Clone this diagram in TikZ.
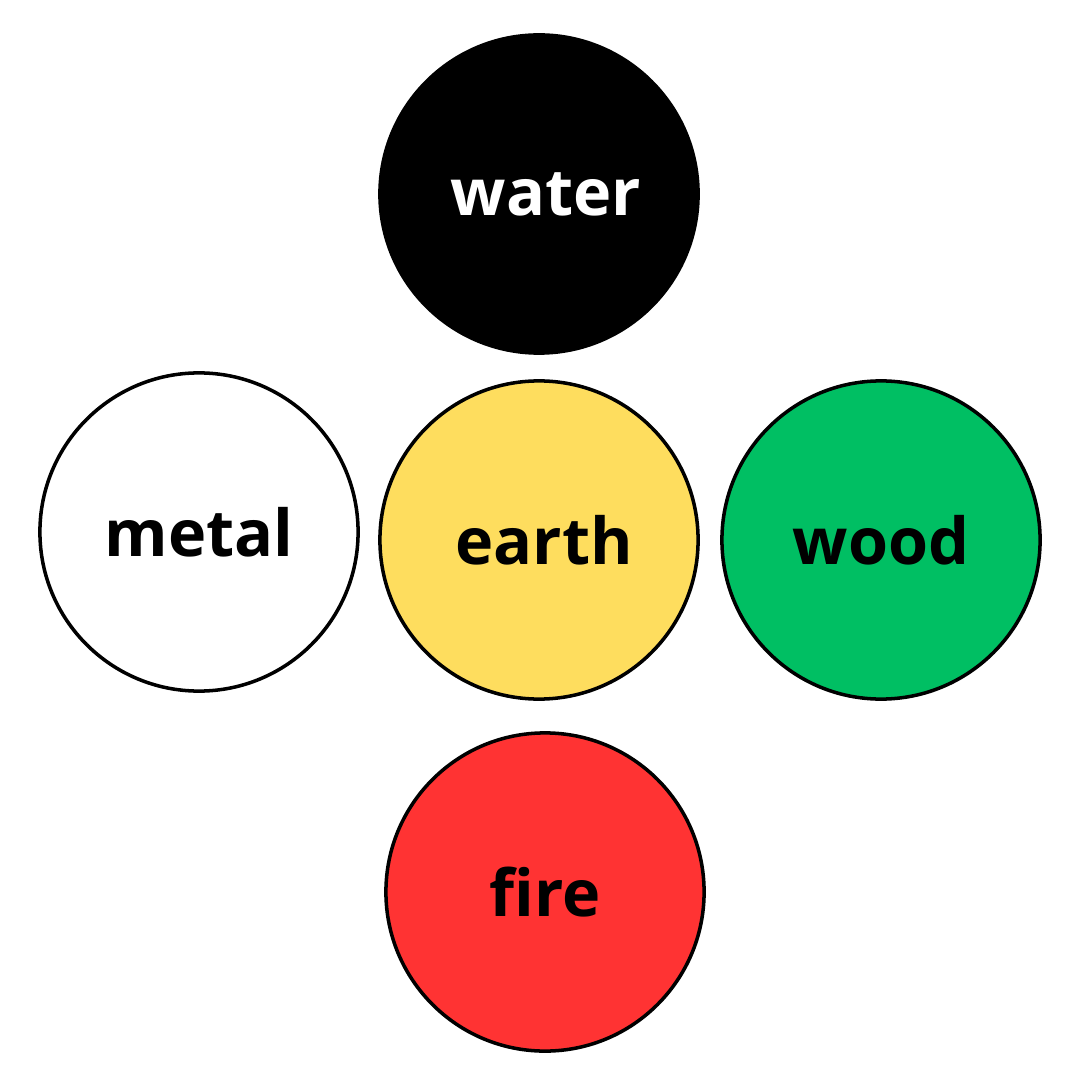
\documentclass[tikz,border=0pt]{standalone}
\usepackage{fontspec}
\setmainfont{Open Sans}[Ligatures=NoCommon]
\usepackage{xcolor}
\usepackage{tikz}
\usetikzlibrary{positioning}
\definecolor{elemyellow}{HTML}{FEDD5E}
\definecolor{elemgreen}{HTML}{00BF63}
\definecolor{elemred}{HTML}{FF3333}

\tikzset{
    element/.style={circle, draw=black, line width=1pt, minimum size=3.18cm,
        inner sep=0pt, font=\fontsize{18.4}{22}\selectfont\bfseries}
}

\begin{document}
\begin{tikzpicture}[x=0.01cm, y=-0.01cm]
    \useasboundingbox (0,0) rectangle (1080,1080);

    % Elements
    \node[element, fill=black, text=white] (water) at (539,194) {\hspace{4pt}water};
    \node[element, fill=white] (metal) at (199,532) {metal};
    \node[element, fill=elemyellow] (earth) at (539,540) {\hspace{3pt}earth};
    \node[element, fill=elemgreen] (wood) at (881,540) {wood};
    \node[element, fill=elemred] (fire) at (545,892) {fire\hspace{3pt}};
\end{tikzpicture}
\end{document}
